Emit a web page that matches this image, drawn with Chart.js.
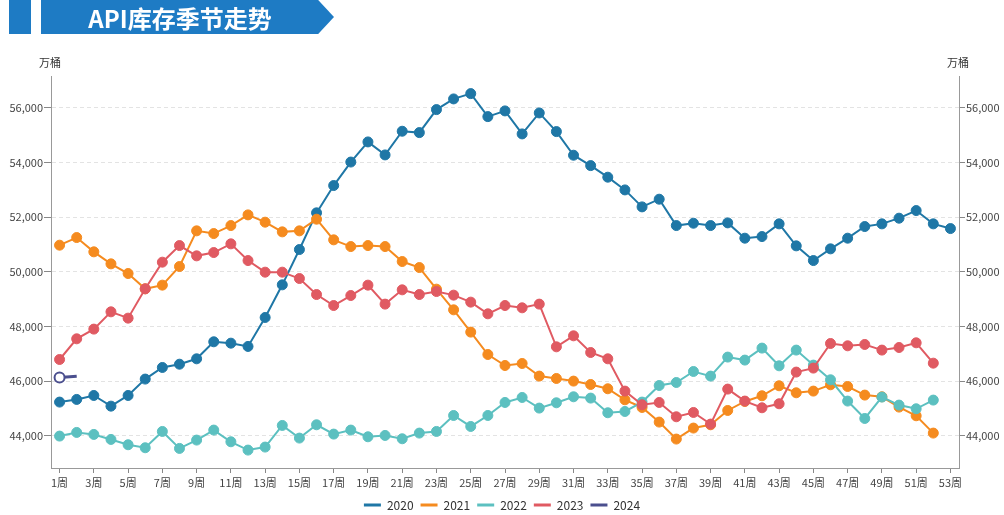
<!DOCTYPE html>
<html lang="zh">
<head>
<meta charset="UTF-8">
<title>API库存季节走势</title>
<script src="https://cdn.jsdelivr.net/npm/chart.js@4.4.1/dist/chart.umd.min.js"></script>
<style>
  html, body { margin: 0; padding: 0; background: #fff; }
  #wrap { position: relative; width: 1004px; height: 515px; overflow: hidden; }
  #myChart { position: absolute; left: 0; top: 0; }
  .tab { position: absolute; top: 0; height: 34px; background: #1e7bc4; }
  .tab.small { left: 9px; width: 22px; }
  .tab.big {
    left: 41px; width: 293px;
    clip-path: polygon(0 0, 94.6% 0, 100% 50%, 94.6% 100%, 0 100%);
  }
  .tab.big span {
    position: absolute; left: 0; width: 278px; top: 0; line-height: 34px;
    text-align: center; color: #fff; font: bold 24px "Noto Sans CJK SC", sans-serif;
  }
</style>
</head>
<body>
<div id="wrap">
  <canvas id="myChart" width="1004" height="515"></canvas>
  <div class="tab small"></div>
  <div class="tab big"><span>API库存季节走势</span></div>
</div>
<script>
// weeks 1..53
const weeks = [];
for (let i = 1; i <= 53; i++) weeks.push(i + '周');

const years = ['2020', '2021', '2022', '2023', '2024'];
const colors = ['#1f77a6', '#f58b1f', '#5cc0c0', '#e05a62', '#4b4f8e'];
const yTicks = [44000, 46000, 48000, 50000, 52000, 54000, 56000];

const y2020 = [45233, 45330, 45475, 45085, 45475, 46075, 46500, 46620, 46817, 47440,
  47390, 47270, 48330, 49525, 50817, 52160, 53160, 54020, 54757, 54281,
  55148, 55098, 55940, 56331, 56525, 55683, 55892, 55050, 55818, 55135,
  54270, 53890, 53466, 53000, 52379, 52660, 51695, 51781, 51695, 51793,
  51233, 51292, 51757, 50952, 50414, 50842, 51233, 51659, 51757, 51965,
  52244, 51757, 51585];
const y2021 = [50977, 51256, 50733, 50293, 49939, 49379, 49514, 50195, 51501, 51402,
  51695, 52086, 51819, 51464, 51501, 51928, 51172, 50926, 50963, 50926,
  50378, 50158, 49367, 48610, 47794, 46975, 46572, 46646, 46184, 46097,
  46001, 45877, 45720, 45317, 45036, 44501, 43879, 44282, 44402, 44926,
  45255, 45464, 45830, 45573, 45635, 45866, 45804, 45489, 45427, 45050,
  44732, 44098];
const y2022 = [43988, 44122, 44049, 43866, 43671, 43561, 44158, 43537, 43842, 44208,
  43780, 43476, 43586, 44378, 43915, 44402, 44061, 44208, 43963, 44012,
  43890, 44098, 44158, 44743, 44341, 44743, 45219, 45402, 45013, 45207,
  45427, 45379, 44842, 44889, 45233, 45840, 45950, 46353, 46184, 46880,
  46770, 47209, 46561, 47136, 46587, 46049, 45270, 44633, 45416, 45123,
  44988, 45306];
const y2023 = [46792, 47549, 47904, 48537, 48306, 49379, 50355, 50963, 50586, 50707,
  51025, 50414, 49989, 49989, 49756, 49170, 48768, 49134, 49514, 48819,
  49342, 49170, 49280, 49148, 48892, 48464, 48768, 48684, 48819, 47256,
  47659, 47048, 46817, 45635, 45134, 45219, 44695, 44853, 44428, 45708,
  45270, 45025, 45171, 46331, 46477, 47378, 47293, 47342, 47136, 47231,
  47403, 46658];
const y2024 = [46133, 46180];

const series = [y2020, y2021, y2022, y2023, y2024];

// 万桶 unit labels above both y axes
const unitLabels = {
  id: 'unitLabels',
  afterDraw(chart) {
    const ctx = chart.ctx;
    const a = chart.chartArea;
    ctx.save();
    ctx.font = '11px "Noto Sans CJK SC", sans-serif';
    ctx.fillStyle = '#333';
    ctx.textAlign = 'center';
    ctx.textBaseline = 'middle';
    ctx.fillText('万桶', a.left - 1, 63);
    ctx.fillText('万桶', a.right - 1, 63);
    ctx.restore();
  }
};

// keep legend box a fixed height so the plot bottom lands where it should
const legendHeight = {
  id: 'legendHeight',
  beforeLayout(chart) {
    const lg = chart.legend;
    if (!lg || lg._fixedFit) return;
    const fit = lg.fit;
    lg.fit = function () { fit.call(this); this.height = 23; };
    lg._fixedFit = true;
  }
};

const datasets = series.map((vals, i) => {
  const last = i === 4;
  return {
    label: years[i],
    data: vals,
    borderColor: colors[i],
    backgroundColor: colors[i],
    pointBackgroundColor: last ? '#fff' : colors[i],
    pointBorderColor: colors[i],
    pointBorderWidth: last ? 2 : 1,
    pointRadius: last ? [5, 0] : 5,
    borderWidth: last ? 3 : 2,
    tension: 0,
    order: 5 - i
  };
});

const tickFont = { family: '"Noto Sans CJK SC", sans-serif', size: 11 };
const setYTicks = scale => { scale.ticks = yTicks.map(v => ({ value: v })); };

new Chart(document.getElementById('myChart'), {
  type: 'line',
  data: { labels: weeks, datasets: datasets },
  options: {
    responsive: false,
    animation: false,
    layout: { padding: { top: 76, left: 0, right: 0, bottom: 0 } },
    plugins: {
      tooltip: { enabled: false },
      legend: {
        position: 'bottom',
        labels: {
          boxWidth: 17,
          boxHeight: 3,
          padding: 7,
          color: '#333',
          font: { family: '"Noto Sans CJK SC", sans-serif', size: 12 },
          sort: (a, b) => a.datasetIndex - b.datasetIndex,
          generateLabels(chart) {
            return Chart.defaults.plugins.legend.labels.generateLabels(chart).map(l => {
              l.lineWidth = 0;
              l.fillStyle = colors[l.datasetIndex];
              return l;
            });
          }
        }
      }
    },
    scales: {
      x: {
        offset: true,
        grid: { drawOnChartArea: false, drawTicks: true, tickLength: 5, color: '#888' },
        border: { display: true, color: '#999' },
        ticks: {
          autoSkip: false,
          maxRotation: 0,
          padding: 3,
          color: '#444',
          font: tickFont,
          callback: function (v, i) { return i % 2 === 0 ? weeks[i] : null; }
        },
        afterFit(scale) { scale.height = 24; }
      },
      y: {
        position: 'left',
        min: 42820,
        max: 57170,
        afterBuildTicks: setYTicks,
        grid: { color: '#e3e3e3', tickColor: '#888', tickBorderDash: [], tickLength: 7 },
        border: { display: true, color: '#999', dash: [4, 3] },
        ticks: {
          padding: 1,
          color: '#444',
          font: tickFont,
          callback: v => v.toLocaleString('en-US')
        },
        afterFit(scale) { scale.width = 51; }
      },
      y1: {
        position: 'right',
        min: 42820,
        max: 57170,
        afterBuildTicks: setYTicks,
        grid: { drawOnChartArea: false, tickColor: '#888', tickLength: 6 },
        border: { display: true, color: '#999' },
        ticks: {
          padding: 1,
          color: '#444',
          font: tickFont,
          callback: v => v.toLocaleString('en-US')
        },
        afterFit(scale) { scale.width = 45; }
      }
    }
  },
  plugins: [unitLabels, legendHeight]
});
</script>
</body>
</html>
